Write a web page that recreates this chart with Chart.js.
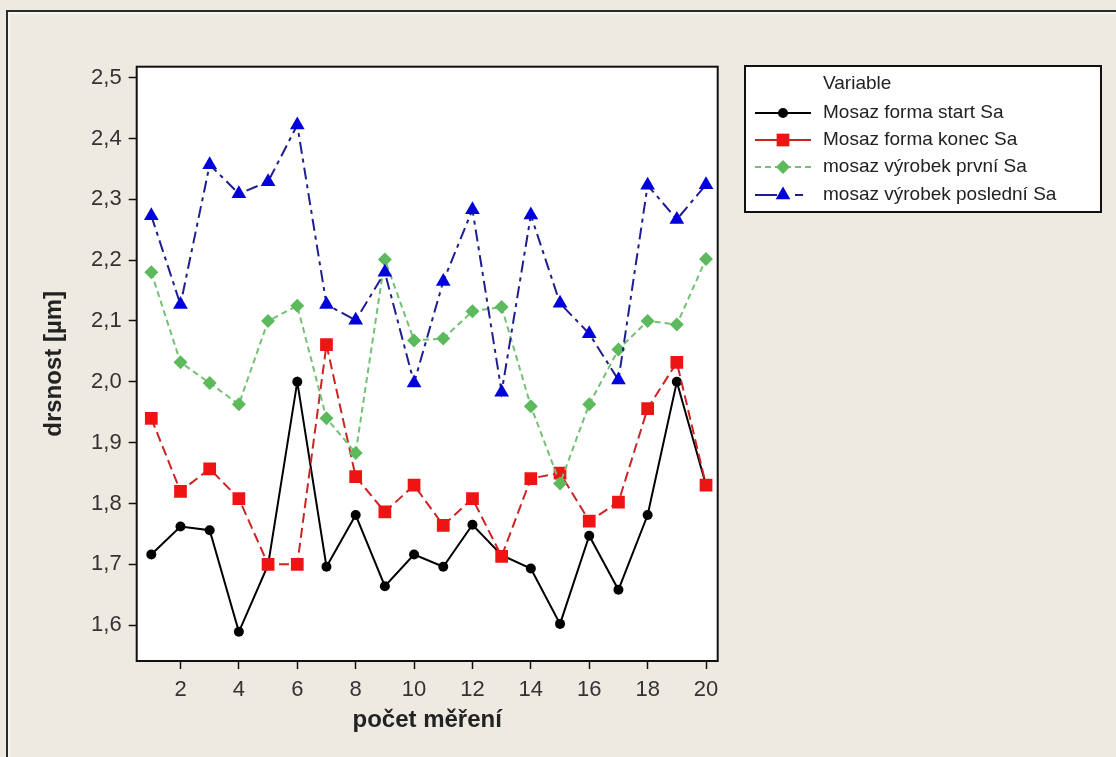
<!DOCTYPE html>
<html><head><meta charset="utf-8">
<script src="https://cdn.jsdelivr.net/npm/chart.js@4/dist/chart.umd.min.js"></script>
<style>html,body{margin:0;padding:0;background:#EEEAE2;overflow:hidden}canvas{display:block}</style>
</head><body>
<canvas id="c" width="1116" height="757"></canvas>
<script>
// ---- data ----
const xValues = [1,2,3,4,5,6,7,8,9,10,11,12,13,14,15,16,17,18,19,20];
const formaStart = [1.716,1.762,1.756,1.589,1.699,2.000,1.696,1.781,1.664,1.716,1.696,1.765,1.715,1.693,1.602,1.747,1.658,1.781,2.000,1.830];
const formaKonec = [1.940,1.820,1.857,1.808,1.700,1.700,2.061,1.844,1.786,1.830,1.764,1.808,1.713,1.841,1.850,1.771,1.802,1.956,2.032,1.830];
const vyrobekPrvni = [2.180,2.032,1.998,1.963,2.100,2.125,1.940,1.883,2.201,2.068,2.071,2.116,2.123,1.960,1.833,1.963,2.053,2.100,2.094,2.202];
const vyrobekPosledni = [2.273,2.127,2.357,2.309,2.329,2.422,2.127,2.101,2.180,1.998,2.165,2.283,1.983,2.274,2.129,2.079,2.003,2.323,2.267,2.324];
const seriesNames = ['Mosaz forma start Sa','Mosaz forma konec Sa','mosaz výrobek první Sa','mosaz výrobek poslední Sa'];
const yTickValues = [1.6,1.7,1.8,1.9,2.0,2.1,2.2,2.3,2.4,2.5];
const yTickLabels = ['1,6','1,7','1,8','1,9','2,0','2,1','2,2','2,3','2,4','2,5'];
const xTickValues = [2,4,6,8,10,12,14,16,18,20];
const xTickLabels = ['2','4','6','8','10','12','14','16','18','20'];
const legendTitle = 'Variable';
const xTitle = 'počet měření';
const yTitle = 'drsnost [µm]';

const FONT = "'Liberation Sans', Arial, sans-serif";
const toPts = arr => xValues.map((x, i) => ({x: x, y: arr[i]}));

const styles = [
  {line:'#000000', fill:'#000000', dash:[], shape:'circle', r:5, legendDash:[]},
  {line:'#CC2424', fill:'#EE1414', dash:[10,5], shape:'rect', r:9, legendDash:[]},
  {line:'#74C074', fill:'#5CBA5C', dash:[6,4], shape:'rectRot', r:7, legendDash:[6,4]},
  {line:'#1E1E8E', fill:'#0000DD', dash:[12,5,4,5], shape:'triangle', r:8.5, legendDash:[22,18,8,30]}
];
const dataArrays = [formaStart, formaKonec, vyrobekPrvni, vyrobekPosledni];

const datasets = dataArrays.map((arr, i) => ({
  label: seriesNames[i],
  data: toPts(arr),
  borderColor: styles[i].line,
  backgroundColor: styles[i].fill,
  pointBackgroundColor: styles[i].fill,
  pointBorderColor: styles[i].fill,
  pointBorderWidth: 0,
  borderWidth: 2,
  borderDash: styles[i].dash,
  pointStyle: styles[i].shape,
  pointRadius: styles[i].r,
  pointHoverRadius: styles[i].r,
  tension: 0,
  fill: false,
  order: 3 - i
}));

function marker(ctx, shape, x, y, r, color) {
  ctx.save();
  ctx.fillStyle = color;
  ctx.setLineDash([]);
  ctx.beginPath();
  if (shape === 'circle') ctx.arc(x, y, r, 0, Math.PI * 2);
  else if (shape === 'rect') { const s = r * Math.SQRT1_2; ctx.rect(x - s, y - s, 2 * s, 2 * s); }
  else if (shape === 'rectRot') { ctx.moveTo(x, y - r); ctx.lineTo(x + r, y); ctx.lineTo(x, y + r); ctx.lineTo(x - r, y); ctx.closePath(); }
  else if (shape === 'triangle') {
    let a = 0;
    ctx.moveTo(x + Math.sin(a) * r, y - Math.cos(a) * r);
    a += 2 * Math.PI / 3; ctx.lineTo(x + Math.sin(a) * r, y - Math.cos(a) * r);
    a += 2 * Math.PI / 3; ctx.lineTo(x + Math.sin(a) * r, y - Math.cos(a) * r);
    ctx.closePath();
  }
  ctx.fill();
  ctx.restore();
}

const backgroundPlugin = {
  id: 'bg',
  beforeDraw(chart) {
    const ctx = chart.ctx, a = chart.chartArea;
    ctx.save();
    ctx.fillStyle = '#EEEAE2';
    ctx.fillRect(0, 0, chart.width, chart.height);
    // outer frame
    ctx.fillStyle = '#2B2B2B';
    ctx.fillRect(6, 10, 2, chart.height);
    ctx.fillRect(6, 10, chart.width, 2);
    ctx.fillStyle = '#F7F5F0';
    ctx.fillRect(8, 12, 2, chart.height);
    ctx.fillRect(8, 12, chart.width, 2);
    // plot area
    ctx.fillStyle = '#FFFFFF';
    ctx.fillRect(a.left, a.top, a.right - a.left, a.bottom - a.top);
    ctx.restore();
  },
  afterDraw(chart) {
    const ctx = chart.ctx, a = chart.chartArea;
    ctx.save();
    ctx.strokeStyle = '#111111';
    ctx.lineWidth = 2;
    ctx.setLineDash([]);
    ctx.strokeRect(a.left, a.top, a.right - a.left, a.bottom - a.top);

    // legend box
    const bx = 745, by = 66, bw = 356, bh = 146;
    ctx.fillStyle = '#FFFFFF';
    ctx.fillRect(bx, by, bw, bh);
    ctx.strokeStyle = '#111111';
    ctx.lineWidth = 2;
    ctx.strokeRect(bx, by, bw, bh);
    ctx.font = '19px ' + FONT;
    ctx.fillStyle = '#222222';
    ctx.textBaseline = 'middle';
    ctx.textAlign = 'left';
    ctx.fillText(legendTitle, 823, 84);
    const rows = [113, 140, 167, 195];
    chart.data.datasets.forEach((ds, i) => {
      const y = rows[i];
      ctx.save();
      ctx.strokeStyle = styles[i].line;
      ctx.lineWidth = 2;
      ctx.setLineDash(styles[i].legendDash);
      ctx.beginPath();
      ctx.moveTo(755, y);
      ctx.lineTo(811, y);
      ctx.stroke();
      ctx.restore();
      marker(ctx, styles[i].shape, 783, y, styles[i].r, styles[i].fill);
      ctx.fillStyle = '#222222';
      ctx.fillText(ds.label, 823, y);
    });
    ctx.restore();
  }
};

new Chart(document.getElementById('c'), {
  type: 'line',
  data: { datasets: datasets },
  options: {
    responsive: false,
    animation: false,
    devicePixelRatio: 1,
    layout: { padding: { left: 39.6, top: 66.7, right: 398.3, bottom: 22.6 } },
    plugins: { legend: { display: false }, tooltip: { enabled: false } },
    elements: { line: { borderCapStyle: 'butt' } },
    scales: {
      x: {
        type: 'linear',
        min: 0.5, max: 20.4,
        afterFit(s) { s.height = 73.4; },
        afterBuildTicks(s) { s.ticks = xTickValues.map(v => ({ value: v })); },
        ticks: {
          autoSkip: false, maxRotation: 0, minRotation: 0, padding: 8,
          color: '#333333', font: { family: FONT, size: 22 },
          callback(v) { const k = xTickValues.indexOf(v); return k >= 0 ? xTickLabels[k] : ''; }
        },
        grid: { drawOnChartArea: false, drawTicks: true, tickLength: 8, tickColor: '#111111', tickWidth: 1.5, color: '#111111' },
        border: { display: false },
        title: { display: true, text: xTitle, color: '#222222', padding: 0, font: { family: FONT, size: 24, weight: 'bold' } }
      },
      y: {
        type: 'linear',
        min: 1.541, max: 2.518,
        afterFit(s) { s.width = 97.1; },
        afterBuildTicks(s) { s.ticks = yTickValues.map(v => ({ value: v })); },
        ticks: {
          autoSkip: false, padding: 7,
          color: '#333333', font: { family: FONT, size: 22 },
          callback(v) { const k = yTickValues.findIndex(t => Math.abs(t - v) < 1e-9); return k >= 0 ? yTickLabels[k] : ''; }
        },
        grid: { drawOnChartArea: false, drawTicks: true, tickLength: 8, tickColor: '#111111', tickWidth: 1.5, color: '#111111' },
        border: { display: false },
        title: { display: true, text: yTitle, color: '#222222', padding: 0, font: { family: FONT, size: 24, weight: 'bold' } }
      }
    }
  },
  plugins: [backgroundPlugin]
});
</script>
</body></html>
